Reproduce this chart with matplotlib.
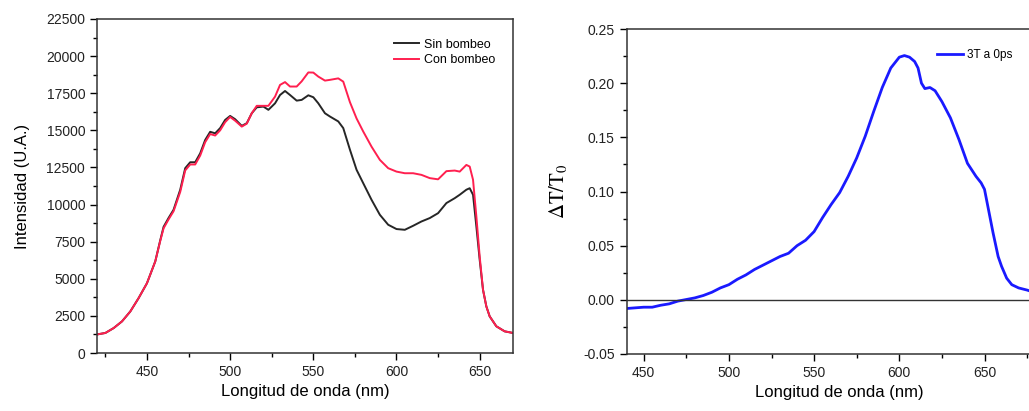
import numpy as np
import matplotlib.pyplot as plt
from matplotlib.ticker import MultipleLocator

plt.rcParams['font.family'] = ['Liberation Sans', 'DejaVu Sans']
plt.rcParams['mathtext.fontset'] = 'stix'

# Panel izquierdo: espectro sin / con bombeo
lam_izq = [420, 425, 430, 435, 440, 445, 450, 455, 458, 460, 463, 466, 470, 473, 476, 479,
           482, 485, 488, 491, 494, 497, 500, 503, 507, 510, 513, 516, 520, 523, 527, 530,
           533, 536, 540, 543, 547, 550, 553, 557, 560, 565, 568, 572, 576, 580, 585, 590,
           595, 600, 605, 610, 615, 620, 625, 630, 635, 638, 642, 644, 646, 648, 650, 652,
           654, 656, 660, 665, 670]
sin_bombeo = [1250, 1350, 1680, 2130, 2800, 3700, 4700, 6170, 7600, 8500, 9100, 9650, 11000,
              12450, 12850, 12850, 13450, 14350, 14900, 14800, 15150, 15700, 15970, 15750,
              15300, 15480, 16150, 16550, 16600, 16380, 16820, 17380, 17650, 17380, 17000,
              17050, 17360, 17230, 16820, 16150, 15930, 15600, 15150, 13700, 12340, 11440,
              10320, 9310, 8640, 8350, 8300, 8570, 8860, 9090, 9420, 10100, 10430, 10660,
              11000, 11100, 10660, 8530, 6280, 4260, 3140, 2470, 1800, 1460, 1350]
con_bombeo = [1250, 1350, 1680, 2130, 2800, 3700, 4700, 6170, 7550, 8400, 9000, 9550, 10850,
              12300, 12700, 12700, 13300, 14200, 14750, 14650, 15000, 15550, 15900, 15650,
              15250, 15450, 16150, 16650, 16650, 16650, 17270, 18060, 18250, 17950, 17950,
              18300, 18900, 18890, 18620, 18350, 18400, 18500, 18280, 16900, 15800, 14920,
              13900, 13010, 12450, 12220, 12110, 12110, 12000, 11780, 11700, 12250, 12290,
              12220, 12670, 12560, 11670, 9200, 6500, 4260, 3140, 2470, 1800, 1460, 1350]

# Panel derecho: transmitancia diferencial
lam_der = [440, 450, 455, 460, 465, 470, 475, 480, 485, 490, 495, 500, 505, 510, 515, 520, 525,
           530, 535, 540, 545, 550, 555, 560, 565, 570, 575, 580, 585, 590, 595, 600, 603,
           606, 609, 611, 613, 615, 618, 621, 625, 630, 635, 640, 645, 648, 650, 652, 655,
           658, 660, 663, 666, 670, 675, 677]
dT_T0 = [-0.008, -0.0068, -0.0068, -0.005, -0.0037, -0.0012, 0.0003, 0.0018, 0.004, 0.007,
         0.011, 0.014, 0.019, 0.023, 0.028, 0.032, 0.036, 0.040, 0.043, 0.050, 0.055, 0.063,
         0.076, 0.088, 0.099, 0.114, 0.131, 0.151, 0.174, 0.196, 0.214, 0.224, 0.2255, 0.224,
         0.220, 0.214, 0.200, 0.195, 0.196, 0.193, 0.183, 0.168, 0.148, 0.126, 0.114, 0.108,
         0.102, 0.086, 0.062, 0.040, 0.031, 0.020, 0.014, 0.011, 0.009, 0.008]

fig = plt.figure(figsize=(10.29, 4.11), dpi=100)

ax1 = fig.add_axes([0.0943, 0.1411, 0.4042, 0.8127])
ax1.plot(lam_izq, sin_bombeo, color='#262626', lw=1.4, label='Sin bombeo')
ax1.plot(lam_izq, con_bombeo, color='#ff1f4f', lw=1.4, label='Con bombeo')
ax1.set_xlim(420, 670)
ax1.set_ylim(0, 22500)
ax1.xaxis.set_major_locator(MultipleLocator(50))
ax1.xaxis.set_minor_locator(MultipleLocator(25))
ax1.yaxis.set_major_locator(MultipleLocator(2500))
ax1.yaxis.set_minor_locator(MultipleLocator(1250))
ax1.set_xlabel('Longitud de onda (nm)', fontsize=12, labelpad=4)
ax1.set_ylabel('Intensidad (U.A.)', fontsize=12, labelpad=12)
ax1.legend(loc='upper right', bbox_to_anchor=(0.985, 0.975), frameon=False, fontsize=9,
           handlelength=2.0, handletextpad=0.4, labelspacing=0.3)

ax2 = fig.add_axes([0.609, 0.1387, 0.414, 0.7907])
ax2.plot(lam_der, dT_T0, color='#1a1aff', lw=2.0, label='3T a 0ps')
ax2.axhline(0, color='#333333', lw=1.0)
ax2.set_xlim(440, 690)
ax2.set_ylim(-0.05, 0.25)
ax2.xaxis.set_major_locator(MultipleLocator(50))
ax2.xaxis.set_minor_locator(MultipleLocator(25))
ax2.yaxis.set_major_locator(MultipleLocator(0.05))
ax2.yaxis.set_minor_locator(MultipleLocator(0.025))
ax2.yaxis.set_major_formatter(plt.FormatStrFormatter('%.2f'))
ax2.set_xlabel('Longitud de onda (nm)', fontsize=12, labelpad=4)
ax2.set_ylabel(r'$\mathrm{\Delta T/T_0}$', fontsize=15, labelpad=10)
ax2.legend(loc='upper right', bbox_to_anchor=(0.93, 0.97), frameon=False, fontsize=8.5,
           handlelength=2.2, handletextpad=0.3)

for ax in (ax1, ax2):
    ax.tick_params(which='major', direction='out', length=5, width=1, labelsize=10,
                   top=False, right=False, labelcolor='#222222')
    ax.tick_params(which='minor', direction='out', length=3, width=1, top=False, right=False)
    for sp in ax.spines.values():
        sp.set_linewidth(1.1)
        sp.set_color('#333333')

fig.savefig('out.png', dpi=100)
